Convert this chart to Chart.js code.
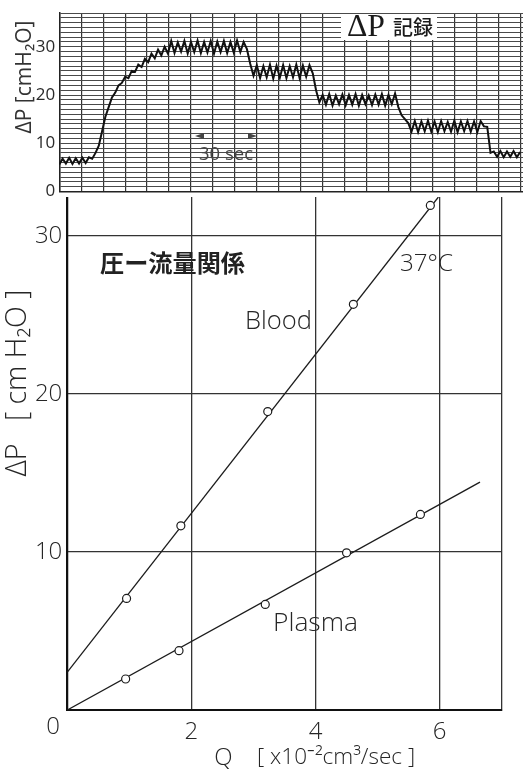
<!DOCTYPE html>
<html><head><meta charset="utf-8">
<script src="https://cdn.jsdelivr.net/npm/chart.js@4.4.1/dist/chart.umd.min.js"></script>
<style>
html,body{margin:0;padding:0;background:#fff;width:523px;height:769px;overflow:hidden}
canvas{position:absolute;left:0;top:0}
</style></head><body>
<canvas id="main" width="523" height="769" style="width:523px;height:769px"></canvas>
<canvas id="strip" width="523" height="197" style="width:523px;height:197px"></canvas>
<script>
// ---- Main chart data (Q in x10^-2 cm3/sec, ΔP in cmH2O) ----
const qBlood = [0.955, 1.83, 3.23, 4.61, 5.85];
const dpBlood = [7.06, 11.65, 18.88, 25.66, 31.92];
const qPlasma = [0.94, 1.80, 3.19, 4.50, 5.69];
const dpPlasma = [1.96, 3.75, 6.68, 9.94, 12.37];
const bloodFitQ = [0, 5.98];
const bloodFitDP = [2.4, 32.45];
const plasmaFitQ = [0, 6.65];
const plasmaFitDP = [0, 14.41];
const xTickValues = [0, 2, 4, 6, 7];
const xTickLabels = ['', '2', '4', '6', ''];
const yTickValues = [0, 10, 20, 30];
const yTickLabels = ['', '10', '20', '30'];

// ---- Strip recording data (ΔP record, sampled every 0.15 chart divisions) ----
const traceStep = 0.15;
const traceDP = [
  5.6, 6.8, 5.8, 7.0, 5.7, 6.9, 5.8, 7.0, 5.9, 7.1,
  6.8, 8.0, 9.5, 12.5, 15.5, 17.5, 19.5, 20.5, 22.0, 22.5, 23.8, 23.5, 25.0, 24.8, 26.3, 25.8, 27.5, 26.8, 28.6, 27.6, 29.4, 28.2, 30.0, 28.6,
  31.2, 28.7, 30.9, 29.0, 31.2, 28.6, 31.0, 28.9, 31.3, 28.7, 31.0, 28.8, 31.2, 28.6, 31.1, 28.9, 31.2, 28.7, 31.0, 28.8, 31.3, 28.9, 31.0,
  29.5, 26.5,
  24.0, 26.2, 23.5, 26.0, 23.7, 26.3, 23.4, 26.1, 23.6, 26.2, 23.5, 26.0, 23.7, 26.3, 23.5, 26.1, 23.8, 26.2,
  24.5, 21.0, 18.5,
  20.0, 18.0, 20.2, 17.8, 19.9, 18.1, 20.1, 17.9, 20.0, 18.0, 20.2, 17.8, 20.0, 18.1, 19.9, 17.9, 20.1, 18.0, 20.2, 17.8, 20.0, 18.1, 20.3,
  17.5, 15.8, 15.0, 14.2,
  12.4, 14.6, 12.3, 14.5, 12.5, 14.7, 12.4, 14.5, 12.3, 14.6, 12.5, 14.4, 12.4, 14.7, 12.3, 14.5, 12.5, 14.6, 12.4, 14.5, 12.3, 14.6, 13.5,
  13.4, 8.0,
  8.3, 7.2, 8.4, 7.1, 8.3, 7.2, 8.4, 7.1, 8.2
];
const stripYLabels = [0, 10, 20, 30];

const FONT = "'Open Sans','Liberation Sans',sans-serif";
const SERIF = "'Liberation Serif','DejaVu Serif',serif";
const CJK = "'Noto Sans CJK JP','Noto Sans CJK SC',sans-serif";
const INK = '#1c1c1c';
const TXT = '#262626';

function pts(xs, ys){ return xs.map((x,i)=>({x:x, y:ys[i]})); }

const textPlugin = {
  id: 'texts',
  afterDraw(chart, args, opts){
    const ctx = chart.ctx;
    (opts.boxes||[]).forEach(b=>{
      ctx.save(); ctx.fillStyle='#fff'; ctx.fillRect(b.x,b.y,b.w,b.h); ctx.restore();
    });
    (opts.arrows||[]).forEach(a=>{
      ctx.save(); ctx.fillStyle=a.color; ctx.beginPath();
      ctx.moveTo(a.x, a.y); ctx.lineTo(a.x - a.dir*9, a.y-3); ctx.lineTo(a.x - a.dir*9, a.y+3);
      ctx.closePath(); ctx.fill(); ctx.restore();
    });
    (opts.items||[]).forEach(t=>{
      ctx.save();
      let size = t.size;
      const fnt = s => `${t.weight||400} ${s}px ${t.family||FONT}`;
      ctx.font = fnt(size);
      if (t.w) { const m = ctx.measureText(t.text).width; size = size * t.w / m; ctx.font = fnt(size); }
      ctx.fillStyle = t.color || TXT;
      ctx.textAlign = t.align || 'left'; ctx.textBaseline = 'middle';
      ctx.translate(t.x, t.y);
      if (t.rot) ctx.rotate(t.rot);
      ctx.fillText(t.text, 0, 0);
      ctx.restore();
    });
  }
};
const bgPlugin = {
  id: 'bg',
  beforeDraw(chart){ const c=chart.ctx; c.save(); c.fillStyle='#fff'; c.fillRect(0,0,chart.width,chart.height); c.restore(); }
};
const noPad = s => { s.paddingTop = 0; s.paddingBottom = 0; s.paddingLeft = 0; s.paddingRight = 0; };

// ---------------- Main chart ----------------
new Chart(document.getElementById('main'), {
  type: 'scatter',
  data: { datasets: [
    { type:'line', data: pts(bloodFitQ, bloodFitDP), borderColor: INK, borderWidth: 1.3, pointRadius: 0, fill: false, order: 2 },
    { type:'line', data: pts(plasmaFitQ, plasmaFitDP), borderColor: INK, borderWidth: 1.3, pointRadius: 0, fill: false, order: 2 },
    { data: pts(qBlood, dpBlood), pointRadius: 4, pointBackgroundColor:'#fff', pointBorderColor: INK, pointBorderWidth: 1.2, order: 1 },
    { data: pts(qPlasma, dpPlasma), pointRadius: 4, pointBackgroundColor:'#fff', pointBorderColor: INK, pointBorderWidth: 1.2, order: 1 }
  ]},
  options: {
    responsive: false, animation: false, devicePixelRatio: 1,
    layout: { autoPadding: false, padding: { top: 197, right: 21.3, left: 0, bottom: 0 } },
    plugins: {
      legend: { display: false }, tooltip: { enabled: false },
      texts: { items: [
        { text: '圧ー流量関係', x: 100, y: 263, size: 24, w: 145, weight: 700, family: CJK, color: '#222' },
        { text: '37°C', x: 400, y: 264, size: 24, w: 53, weight: 300 },
        { text: 'Blood', x: 245, y: 322, size: 24, w: 67, weight: 300 },
        { text: 'Plasma', x: 273, y: 623, size: 24, w: 85, weight: 300 },
        { text: '0', x: 53, y: 727, align: 'center', size: 24, weight: 300 },
        { text: 'Q', x: 223.5, y: 758, align: 'center', size: 24, weight: 300 },
        { text: '[ x10⁻²cm³/sec ]', x: 257, y: 758, size: 23, w: 158, weight: 300 },
        { text: 'ΔP   [ cm H₂O ]', x: 18, y: 383, align: 'center', rot: -Math.PI/2, size: 24, w: 187, weight: 300 }
      ] }
    },
    scales: {
      x: { type: 'linear', min: 0, max: 7,
        afterBuildTicks: s => { s.ticks = xTickValues.map(v => ({ value: v })); },
        afterFit: s => { s.height = 59; noPad(s); },
        grid: { color: '#333', lineWidth: 1.3, drawTicks: false },
        border: { color: '#111', width: 2 },
        ticks: { autoSkip: false, maxRotation: 0, padding: 8, color: TXT,
          font: { family: FONT, size: 24, weight: 300 },
          callback: (v) => xTickLabels[xTickValues.indexOf(v)] ?? '' } },
      y: { type: 'linear', min: 0, max: 32.45,
        afterBuildTicks: s => { s.ticks = yTickValues.map(v => ({ value: v })); },
        afterFit: s => { s.width = 67.3; noPad(s); },
        grid: { color: '#333', lineWidth: 1.3, drawTicks: false },
        border: { color: '#111', width: 2 },
        ticks: { autoSkip: false, padding: 5, color: TXT,
          font: { family: FONT, size: 24, weight: 300 },
          callback: (v) => yTickLabels[yTickValues.indexOf(v)] ?? '' } }
    }
  },
  plugins: [bgPlugin, textPlugin]
});

// ---------------- Strip recording ----------------
const stripX = [];
for (let i = 0; i <= 21; i++) stripX.push(i);
const stripYTicks = [];
for (let i = 0; i <= 37; i++) stripYTicks.push(i);

new Chart(document.getElementById('strip'), {
  type: 'line',
  data: { datasets: [
    { data: traceDP.map((v,i)=>({ x: i*traceStep, y: v })), borderColor: '#111', borderWidth: 2, pointRadius: 0, tension: 0, fill: false }
  ]},
  options: {
    responsive: false, animation: false, devicePixelRatio: 1, parsing: false,
    layout: { autoPadding: false, padding: { top: 13, right: 0, left: 0, bottom: 0 } },
    plugins: {
      legend: { display: false }, tooltip: { enabled: false },
      texts: {
        boxes: [ { x: 341, y: 14, w: 96, h: 26 } ],
        arrows: [ { x: 195, y: 136, dir: -1, color: '#444' }, { x: 257, y: 136, dir: 1, color: '#444' } ],
        items: [
          { text: 'ΔP', x: 347, y: 28, size: 26, w: 38, family: SERIF, color: '#1a1a1a' },
          { text: '記録', x: 393, y: 27, size: 22, w: 40, weight: 500, family: CJK, color: '#1a1a1a' },
          { text: '30 sec', x: 226, y: 155, align: 'center', size: 20, w: 54, color: '#444' },
          { text: 'ΔP [cmH₂O]', x: 25, y: 77, align: 'center', rot: -Math.PI/2, size: 17, w: 113, color: '#333' }
        ] }
    },
    scales: {
      x: { type: 'linear', min: 0, max: 21.13,
        afterBuildTicks: s => { s.ticks = stripX.map(v => ({ value: v })); },
        afterFit: s => { s.height = 5.5; noPad(s); },
        grid: { color: '#333', lineWidth: 1.2, drawTicks: false },
        border: { color: '#222', width: 1.5 },
        ticks: { display: false } },
      y: { type: 'linear', min: 0, max: 37,
        afterBuildTicks: s => { s.ticks = stripYTicks.map(v => ({ value: v })); },
        afterFit: s => { s.width = 59.3; noPad(s); },
        grid: { color: '#4a4a4a', lineWidth: 1, drawTicks: false },
        border: { color: '#222', width: 1.5 },
        ticks: { autoSkip: false, padding: 4, color: '#2a2a2a',
          font: { family: FONT, size: 17 },
          callback: (v) => stripYLabels.includes(v) ? String(v) : '' } }
    }
  },
  plugins: [bgPlugin, textPlugin]
});
</script>
</body></html>
